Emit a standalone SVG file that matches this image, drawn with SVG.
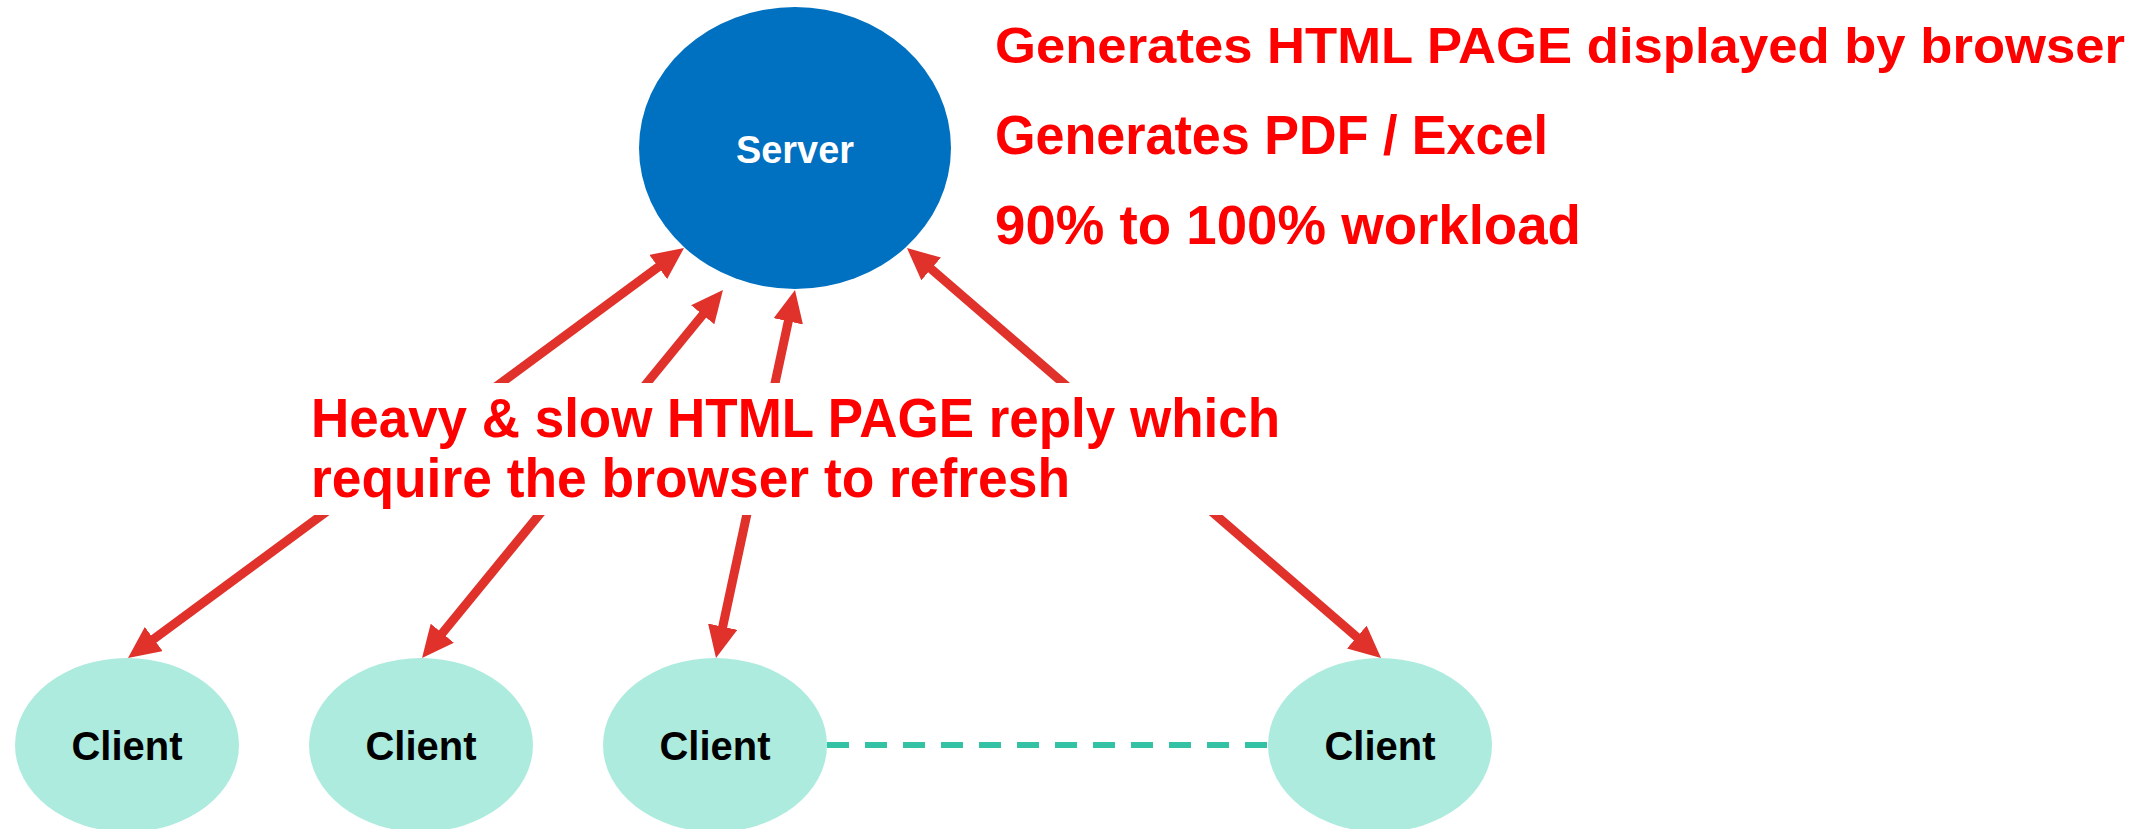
<svg xmlns="http://www.w3.org/2000/svg" width="2144" height="829" viewBox="0 0 2144 829">
<style>
.conn{stroke:#E0312B;stroke-width:9;fill:none;marker-start:url(#ah);marker-end:url(#ah)}
.dash{stroke:#33C3A4;stroke-width:6;stroke-dasharray:22 16;fill:none}
.client{fill:#ADEBDE}
.ctext{font-family:"Liberation Sans",Arial,sans-serif;font-weight:bold;font-size:41px;fill:#000;text-anchor:middle}
.stext{font-family:"Liberation Sans",Arial,sans-serif;font-weight:bold;font-size:39px;fill:#fff;text-anchor:middle}
.note{font-family:"Liberation Sans",Arial,sans-serif;font-weight:bold;font-size:55px;fill:#FF0000}
.note.first{font-size:50px}
</style>
<defs>
<marker id="ah" viewBox="0 0 32 30" refX="12" refY="15" markerWidth="32" markerHeight="30" markerUnits="userSpaceOnUse" orient="auto-start-reverse">
<path d="M0,0 L32,15 L0,30 Z" fill="#E0312B"/>
</marker>
</defs>
<rect width="2144" height="829" fill="#fff"/>
<g id="connectors">
<line class="conn" x1="667.9" y1="259.9" x2="144.1" y2="646.1"/>
<line class="conn" x1="710.3" y1="305.5" x2="434.7" y2="642.5"/>
<line class="conn" x1="790.8" y1="309.6" x2="720.2" y2="638.4"/>
<line class="conn" x1="922.1" y1="261.1" x2="1365.9" y2="644.9"/>
<line class="dash" x1="827" y1="745" x2="1268" y2="745"/>
</g>
<g id="server">
<ellipse cx="795" cy="148" rx="156" ry="141" fill="#0070C0"/>
<text class="stext" x="795" y="163" textLength="118" lengthAdjust="spacingAndGlyphs">Server</text>
</g>
<g id="client1">
<ellipse class="client" cx="127" cy="745" rx="112" ry="87"/>
<text class="ctext" x="127" y="760" textLength="111" lengthAdjust="spacingAndGlyphs">Client</text>
</g>
<g id="client2">
<ellipse class="client" cx="421" cy="745" rx="112" ry="87"/>
<text class="ctext" x="421" y="760" textLength="111" lengthAdjust="spacingAndGlyphs">Client</text>
</g>
<g id="client3">
<ellipse class="client" cx="715" cy="745" rx="112" ry="87"/>
<text class="ctext" x="715" y="760" textLength="111" lengthAdjust="spacingAndGlyphs">Client</text>
</g>
<g id="client4">
<ellipse class="client" cx="1380" cy="745" rx="112" ry="87"/>
<text class="ctext" x="1380" y="760" textLength="111" lengthAdjust="spacingAndGlyphs">Client</text>
</g>
<g id="server-notes">
<text class="note first" x="995" y="63" textLength="1130" lengthAdjust="spacingAndGlyphs">Generates HTML PAGE displayed by browser</text>
<text class="note" x="995" y="154" textLength="553" lengthAdjust="spacingAndGlyphs">Generates PDF / Excel</text>
<text class="note" x="995" y="244" textLength="586" lengthAdjust="spacingAndGlyphs">90% to 100% workload</text>
</g>
<g id="reply-label">
<rect x="305" y="383" width="985" height="132" fill="#fff"/>
<text class="note" x="311" y="437" textLength="969" lengthAdjust="spacingAndGlyphs">Heavy &amp; slow HTML PAGE reply which</text>
<text class="note" x="311" y="497" textLength="759" lengthAdjust="spacingAndGlyphs">require the browser to refresh</text>
</g>
</svg>
